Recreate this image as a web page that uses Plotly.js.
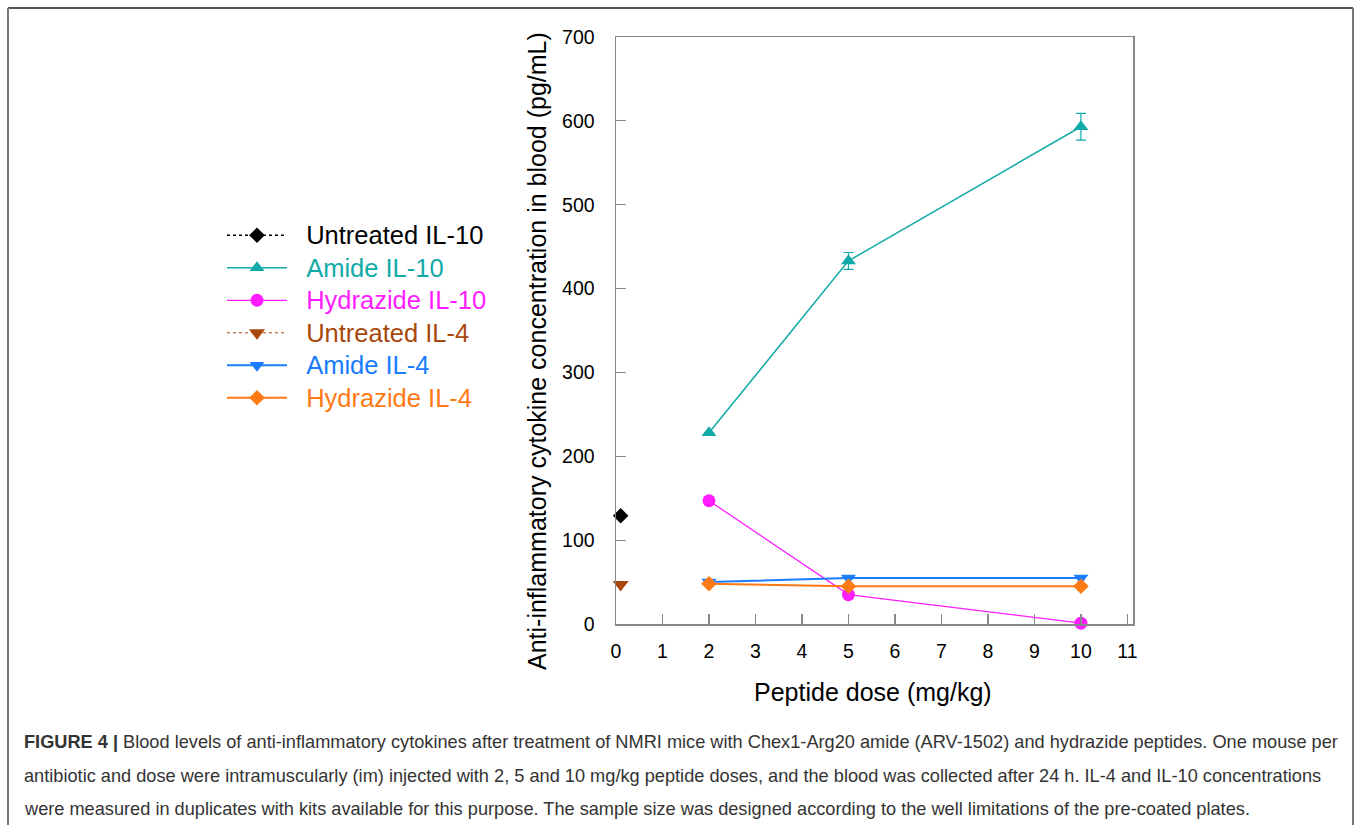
<!DOCTYPE html>
<html>
<head>
<meta charset="utf-8">
<script src="https://cdn.plot.ly/plotly-3.0.1.min.js"></script>
<style>
  html, body { margin: 0; padding: 0; background: #fff; }
  #chart { width: 1358px; height: 825px; }
</style>
</head>
<body>
<div id="chart"></div>
<script>
// ---- data ----
const untreatedDose = [0.1];
const untreatedIL10 = [129];
const untreatedIL4 = [47];

const doses = [2, 5, 10];
const amideIL10 = [228, 433, 593];
const amideIL10Err = [0, 10, 16];
const hydrazideIL10 = [147, 35, 1];
const amideIL4 = [50, 55, 55];
const hydrazideIL4 = [48, 45, 45];

const xTicks = [0, 1, 2, 3, 4, 5, 6, 7, 8, 9, 10, 11];
const yTicks = [0, 100, 200, 300, 400, 500, 600, 700];

const seriesNames = ['Untreated IL-10', 'Amide IL-10', 'Hydrazide IL-10', 'Untreated IL-4', 'Amide IL-4', 'Hydrazide IL-4'];
const xTitle = 'Peptide dose (mg/kg)';
const yTitle = 'Anti-inflammatory cytokine concentration in blood (pg/mL)';

const captionLines = [
  "<b>FIGURE 4 |</b> Blood levels of anti-inflammatory cytokines after treatment of NMRI mice with Chex1-Arg20 amide (ARV-1502) and hydrazide peptides. One mouse per",
  "antibiotic and dose were intramuscularly (im) injected with 2, 5 and 10 mg/kg peptide doses, and the blood was collected after 24 h. IL-4 and IL-10 concentrations",
  "were measured in duplicates with kits available for this purpose. The sample size was designed according to the well limitations of the pre-coated plates."
];

const C = {
  untrIL10: '#000000',
  amIL10: '#12aaa8',
  hyIL10: '#ff1cff',
  untrIL4: '#a8480c',
  amIL4: '#1a7cff',
  hyIL4: '#ff7a14'
};
function nm(t, c) { return '<span style="color:' + c + ';font-size:25.5px">\u00a0\u00a0' + t + '</span>'; }

const traces = [
  { x: untreatedDose, y: untreatedIL10, name: nm(seriesNames[0], C.untrIL10), mode: 'lines+markers',
    line: { color: C.untrIL10, width: 1.5, dash: 'dot' }, marker: { symbol: 'diamond', size: 12, color: C.untrIL10 } },
  { x: doses, y: amideIL10, name: nm(seriesNames[1], C.amIL10), mode: 'lines+markers',
    line: { color: C.amIL10, width: 1.5 }, marker: { symbol: 'triangle-up', size: 13, color: C.amIL10 },
    error_y: { type: 'data', array: amideIL10Err, visible: true, color: C.amIL10, thickness: 1.2, width: 5 } },
  { x: doses, y: hydrazideIL10, name: nm(seriesNames[2], C.hyIL10), mode: 'lines+markers',
    line: { color: C.hyIL10, width: 1.3 }, marker: { symbol: 'circle', size: 13, color: C.hyIL10 } },
  { x: untreatedDose, y: untreatedIL4, name: nm(seriesNames[3], C.untrIL4), mode: 'lines+markers',
    line: { color: C.untrIL4, width: 1, dash: 'dot' }, marker: { symbol: 'triangle-down', size: 14, color: C.untrIL4 } },
  { x: doses, y: amideIL4, name: nm(seriesNames[4], C.amIL4), mode: 'lines+markers',
    line: { color: C.amIL4, width: 2 }, marker: { symbol: 'triangle-down', size: 13, color: C.amIL4 } },
  { x: doses, y: hydrazideIL4, name: nm(seriesNames[5], C.hyIL4), mode: 'lines+markers',
    line: { color: C.hyIL4, width: 2 }, marker: { symbol: 'diamond', size: 12, color: C.hyIL4 } }
];
traces.forEach((t, i) => { t.type = 'scatter'; t.legendgroup = 'g' + i; t.cliponaxis = false; });

const L = 616, R = 1133, T = 37, B = 624, W = 1358, H = 825;
const pw = R - L, ph = B - T;
const px = v => (v - L) / pw;
const py = v => 1 - (v - T) / ph;

const annotations = captionLines.map((s, i) => ({
  text: s, xref: 'paper', yref: 'paper', x: px(22), y: py(742 + i * 33.5),
  xanchor: 'left', yanchor: 'middle', showarrow: false, align: 'left',
  font: { family: 'Liberation Sans, Arial, sans-serif', size: 18.2, color: '#333' }
}));
annotations.push({
  text: yTitle, xref: 'paper', yref: 'paper', x: px(537), y: py(351),
  xanchor: 'center', yanchor: 'middle', textangle: -90, showarrow: false,
  font: { family: 'Liberation Sans, Arial, sans-serif', size: 25, color: '#000' }
});
annotations.push({
  text: xTitle, xref: 'paper', yref: 'paper', x: px(873), y: py(692),
  xanchor: 'center', yanchor: 'middle', showarrow: false,
  font: { family: 'Liberation Sans, Arial, sans-serif', size: 25, color: '#000' }
});

const layout = {
  width: W, height: H,
  margin: { l: L, r: W - R, t: T, b: H - B, pad: 0 },
  paper_bgcolor: '#fff', plot_bgcolor: '#fff',
  font: { family: 'Liberation Sans, Arial, Helvetica, sans-serif', color: '#000' },
  showlegend: true,
  legend: {
    x: px(222), y: py(214), xanchor: 'left', yanchor: 'top',
    font: { size: 22.7, family: 'Liberation Sans, Arial, sans-serif' },
    tracegroupgap: 0, bgcolor: 'rgba(0,0,0,0)', itemwidth: 60
  },
  xaxis: {
    range: [0, 11.12], tickvals: xTicks, ticktext: xTicks.map(String),
    ticks: 'inside', ticklen: 10, tickcolor: '#888', tickwidth: 1.2,
    showline: true, linecolor: '#888', linewidth: 1.5, mirror: true,
    showgrid: false, zeroline: false,
    tickfont: { size: 19.5, color: '#000' }, ticklabelstandoff: 9
  },
  yaxis: {
    range: [0, 700], tickvals: yTicks, ticktext: yTicks.map(String),
    ticks: 'inside', ticklen: 10, tickcolor: '#888', tickwidth: 1.2,
    showline: true, linecolor: '#888', linewidth: 1.5, mirror: true,
    showgrid: false, zeroline: false,
    tickfont: { size: 19.5, color: '#000' }, ticklabelstandoff: 16
  },
  shapes: [
    { type: 'line', xref: 'paper', yref: 'paper', x0: px(8), x1: px(1353), y0: py(8), y1: py(8), line: { color: '#555', width: 2 } },
    { type: 'line', xref: 'paper', yref: 'paper', x0: px(8), x1: px(8), y0: py(8), y1: py(840), line: { color: '#777', width: 2 } },
    { type: 'line', xref: 'paper', yref: 'paper', x0: px(1353), x1: px(1353), y0: py(8), y1: py(840), line: { color: '#777', width: 2 } }
  ],
  annotations: annotations
};

Plotly.newPlot('chart', traces, layout, { displayModeBar: false, staticPlot: true });
</script>
</body>
</html>
